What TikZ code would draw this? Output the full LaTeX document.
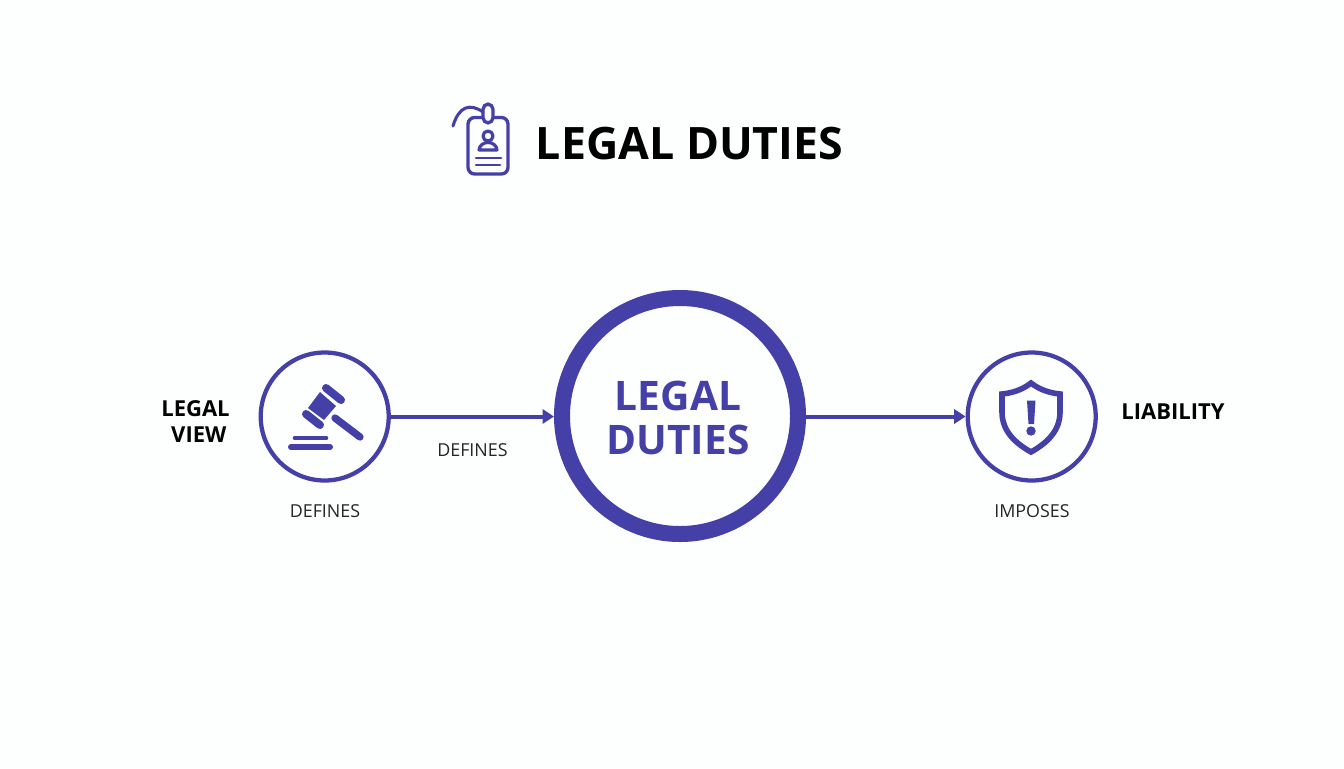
\documentclass[tikz,border=0pt]{standalone}
\usepackage{fontspec}
\setmainfont{Open Sans}
\usetikzlibrary{arrows.meta}
\definecolor{dutyblue}{HTML}{4540A8}
\definecolor{paper}{HTML}{FDFEFE}
\tikzset{
	ringsmall/.style={circle, draw=dutyblue, line width=3.2pt, minimum size=96pt, inner sep=0pt},
	ringbig/.style={circle, draw=dutyblue, line width=12pt, minimum size=177pt, inner sep=0pt},
	flow/.style={draw=dutyblue, line width=3pt, -{Triangle[length=8.5pt,width=10.5pt]}},
	icon/.style={draw=dutyblue, line width=3pt, line cap=round, line join=round},
	iconfill/.style={fill=dutyblue, draw=none},
	caption/.style={font=\fontsize{13.4}{16}\selectfont, text=black!85},
	side/.style={font=\fontsize{16.5}{19.5}\selectfont\bfseries, align=center}
}
\begin{document}
\begin{tikzpicture}[x=0.75pt,y=-0.75pt]
	\fill [paper] (0,0) rectangle (1344,768);
	\useasboundingbox (0,0) rectangle (1344,768);
	
	% title
	\node (title) at (689.5,143.5) {\fontsize{33.5}{38}\selectfont\bfseries LEGAL DUTIES};
	\draw [icon, line width=2.5pt, rounded corners=5pt] (468,117.5) rectangle (508,174);
	\draw [icon, line width=2.5pt, fill=paper, rounded corners=4pt] (483,104) rectangle (493,123);
	\draw [icon, line width=2.3pt] (453,126) .. controls (459,106) and (470,103) .. (483,112);
	\draw [icon, line width=2.4pt] (488,136) circle (5);
	\draw [icon, line width=2.4pt] (479,150) .. controls (480,140) and (496,140) .. (497,150) -- cycle;
	\draw [icon, line width=2pt] (476,158) -- (501,158);
	\draw [icon, line width=2pt] (476,165) -- (500,165);
	
	% circles
	\node [ringsmall] (view) at (324.7,416.5) {};
	\node [ringbig] (duties) at (680,416) {};
	\node [ringsmall] (liability) at (1031.7,416.5) {};
	\node [text=dutyblue, align=center, font=\fontsize{30.5}{33}\selectfont\bfseries] (dutiestext) at (678,417.5) {LEGAL\\DUTIES};
	
	% gavel
	\fill [iconfill] (320,392) -- (336,406) -- (324,420) -- (308,408) -- cycle;
	\draw [icon, line width=6pt] (326,388) -- (341,400);
	\draw [icon, line width=6pt] (306,414) -- (320,425);
	\draw [icon, line width=5.5pt] (335,418) -- (360,437);
	\draw [icon, line width=3.5pt] (295,438) -- (326,438);
	\draw [icon, line width=4.5pt] (291,447) -- (330,447);
	
	% shield
	\draw [icon, line width=4.2pt, line cap=butt, line join=miter] (1031,383) .. controls (1022,390) and (1012,393) .. (1002,394)
		-- (1002,412) .. controls (1002,431) and (1015,443) .. (1031,452)
		.. controls (1047,443) and (1060,431) .. (1060,412) -- (1060,394)
		.. controls (1050,393) and (1040,390) .. (1031,383) -- cycle;
	\fill [iconfill] (1027,400.5) -- (1035.5,400.5) -- (1034,424) -- (1028.5,424) -- cycle;
	\fill [iconfill] (1031,431) circle (4.7);
	
	% connectors
	\draw [flow] (view) -- (view -| duties.west);
	\draw [flow] (view -| duties.east) -- (liability);
	
	% labels
	\node [side] (viewlabel) at (195.5,421.5) {LEGAL\\\hspace*{5pt}VIEW};
	\node [side] (liablabel) at (1173,411.5) {LIABILITY};
	\node [caption] (defa) at (472.5,450) {DEFINES};
	\node [caption] (defb) at (325,511) {DEFINES};
	\node [caption] (imposes) at (1032,511) {IMPOSES};
\end{tikzpicture}
\end{document}
